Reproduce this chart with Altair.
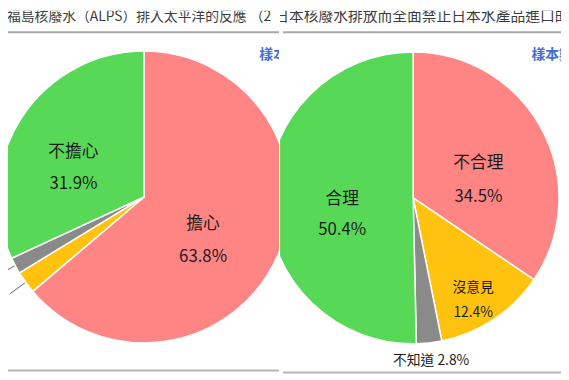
import altair as alt
import pandas as pd

# ---- data ----
left_names = ["擔心", "沒意見", "不知道", "不擔心"]
left_values = [63.8, 2.5, 1.8, 31.9]
right_names = ["不合理", "沒意見", "不知道", "合理"]
right_values = [34.5, 12.4, 2.8, 50.4]
slice_colors = ["#FF8585", "#FFC30F", "#8A8A8A", "#57D957"]
left_title = ["福島核廢水（ALPS）排入太平洋的反應 （2"]
right_title = ["日本核廢水排放而全面禁止日本水產品進口的"]
sample_label = ["樣本數"]

FONT = "Noto Sans CJK TC"
R = 148
W_L, W_R, H = 275, 285, 372


def title_layers(title, width, x0, fs, line_x0, bottom_y):
    tdf = pd.DataFrame({"t": title})
    sdf = pd.DataFrame({"t": sample_label})
    t = alt.Chart(tdf).mark_text(
        align="left", baseline="middle", fontSize=fs, font=FONT, color="#3d3d3d", clip=True
    ).encode(x=alt.value(x0), y=alt.value(6), text="t:N")
    line = alt.Chart(tdf).mark_rule(color="#a8a8a8", strokeWidth=2, clip=True).encode(
        x=alt.value(line_x0), x2=alt.value(width), y=alt.value(22)
    )
    bline = alt.Chart(tdf).mark_rule(color="#b5b5b5", strokeWidth=2, clip=True).encode(
        x=alt.value(line_x0), x2=alt.value(width), y=alt.value(bottom_y)
    )
    s = alt.Chart(sdf).mark_text(
        align="left", baseline="middle", fontSize=14, font=FONT, fontWeight="bold",
        color="#3F6FD6", clip=True
    ).encode(x=alt.value(255), y=alt.value(45), text="t:N")
    return [t, line, bline, s]


def pie(names, values, cx, cy):
    df = pd.DataFrame({"name": names, "val": values, "idx": list(range(len(names)))})
    base = alt.Chart(df)
    arcs = base.mark_arc(outerRadius=R, stroke="white", strokeWidth=1.5, clip=True).encode(
        theta=alt.Theta("val:Q", stack=True),
        order=alt.Order("idx:Q"),
        color=alt.Color("name:N", scale=alt.Scale(domain=names, range=slice_colors), legend=None),
        x=alt.value(cx),
        y=alt.value(cy),
    )
    return df, base, arcs


def label_layer(base, cx, cy, idxs, radius, fs, line_h, two_line=True, align="center"):
    cond = " || ".join(f"datum.idx == {i}" for i in idxs)
    if two_line:
        expr = f"({cond}) ? datum.name + '\\n' + format(datum.val, '.1f') + '%' : ''"
    else:
        expr = f"({cond}) ? datum.name + ' ' + format(datum.val, '.1f') + '%' : ''"
    return base.transform_calculate(lab=expr).mark_text(
        radius=radius, fontSize=fs, font=FONT, color="#1c1c1c", lineBreak="\n",
        lineHeight=line_h, align=align, baseline="middle", clip=True
    ).encode(
        theta=alt.Theta("val:Q", stack=True),
        order=alt.Order("idx:Q"),
        text="lab:N",
        x=alt.value(cx),
        y=alt.value(cy),
    )


# ---- left panel ----
CXL, CYL = 138, 189
dfl, basel, arcsl = pie(left_names, left_values, CXL, CYL)
lab_l_big = label_layer(basel, CXL, CYL, [3], 85, 17, 33)
lab_l_big2 = label_layer(basel, CXL, CYL, [0], 66, 17, 33)
lab_l_small = label_layer(basel, CXL, CYL, [1, 2], 172, 14, 18, two_line=False, align="right")

leaders = (
    basel.transform_joinaggregate(total="sum(val)")
    .transform_window(cum="sum(val)", sort=[alt.SortField("idx")], frame=[None, 0])
    .transform_filter("datum.idx == 1 || datum.idx == 2")
    .transform_calculate(a="(datum.cum - datum.val / 2) / datum.total * 2 * PI")
    .transform_calculate(
        x1=f"{CXL} + {R + 1} * sin(datum.a)",
        y1=f"{CYL} - {R + 1} * cos(datum.a)",
        x2=f"{CXL} + {R + 20} * sin(datum.a)",
        y2=f"{CYL} - {R + 20} * cos(datum.a)",
    )
    .mark_rule(color="#666666", strokeWidth=1, clip=True)
    .encode(
        x=alt.X("x1:Q", scale=None, axis=None),
        y=alt.Y("y1:Q", scale=None, axis=None),
        x2="x2:Q",
        y2="y2:Q",
    )
)

left = alt.layer(
    arcsl, leaders, lab_l_big, lab_l_big2, lab_l_small,
    *title_layers(left_title, W_L, -1, 14, 0, 365),
).properties(width=W_L, height=H)

# ---- right panel ----
CXR, CYR = 135, 190
dfr, baser, arcsr = pie(right_names, right_values, CXR, CYR)
lab_r1 = label_layer(baser, CXR, CYR, [3], 72, 17, 32)
lab_r2 = label_layer(baser, CXR, CYR, [0], 75, 17, 34)
lab_r3 = label_layer(baser, CXR, CYR, [1], 110, 14, 25)
lab_r4 = label_layer(baser, CXR, CYR, [2], 166, 14, 18, two_line=False)

right = alt.layer(
    arcsr, lab_r1, lab_r2, lab_r3, lab_r4,
    *title_layers(right_title, W_R, -6, 15, 3, 367),
).properties(width=W_R, height=H)

chart = (
    alt.hconcat(left, right, spacing=1)
    .resolve_scale(color="independent", theta="independent")
    .properties(padding=0, background="white")
    .configure_view(strokeWidth=0)
)

chart.save("out.html", embed_options={"renderer": "svg", "actions": False})
